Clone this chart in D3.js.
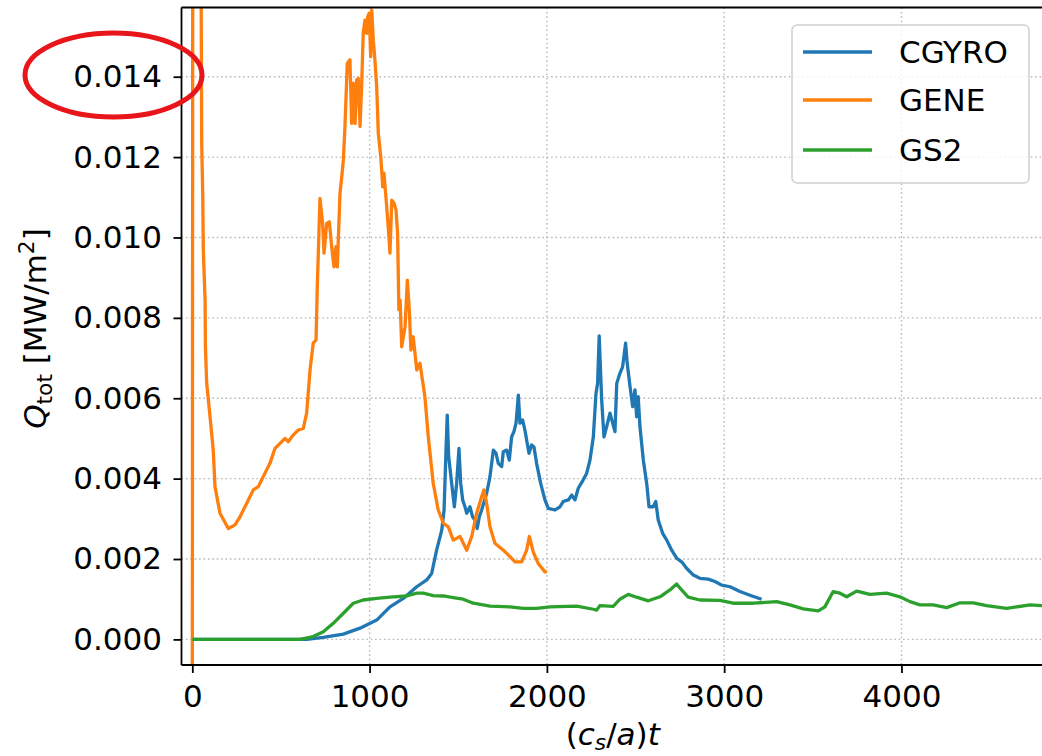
<!DOCTYPE html>
<html>
<head>
<meta charset="utf-8">
<script src="https://cdn.jsdelivr.net/npm/d3@7"></script>
<style>
  html, body { margin: 0; padding: 0; background: #fff; }
  svg { display: block; font-family: "DejaVu Sans", sans-serif; }
</style>
</head>
<body>
<svg id="chart" width="1042" height="756"></svg>
<script>
// Total heat flux Q_tot [MW/m^2] versus normalised time (c_s/a)t for three gyrokinetic codes.
const seriesNames = ["CGYRO", "GENE", "GS2"];
const seriesColors = ["#1f77b4", "#ff7f0e", "#2ca02c"];

const xTicks = [0, 1000, 2000, 3000, 4000];
const yTicks = [0.000, 0.002, 0.004, 0.006, 0.008, 0.010, 0.012, 0.014];

// [time, flux] pairs
const cgyro = [[0,0],[300,0],[645,0],[739,0.00005],[852,0.00013],[946,0.00028],[1040,0.00048],[1115,0.00081],[1190,0.00102],[1266,0.00131],[1322,0.00148],[1350,0.00164],[1378,0.00222],[1407,0.00272],[1420,0.00322],[1431,0.00471],[1438,0.00558],[1446,0.00455],[1463,0.00388],[1478,0.0033],[1491,0.00388],[1504,0.00475],[1514,0.00388],[1525,0.00347],[1538,0.0033],[1548,0.00314],[1566,0.0033],[1581,0.00305],[1594,0.00297],[1607,0.00276],[1619,0.00305],[1632,0.00322],[1660,0.00363],[1679,0.00405],[1698,0.00471],[1713,0.00463],[1726,0.00438],[1745,0.0043],[1754,0.00467],[1773,0.00471],[1788,0.00446],[1801,0.00504],[1814,0.00517],[1826,0.00538],[1839,0.00608],[1848,0.00538],[1863,0.00546],[1876,0.00521],[1889,0.00488],[1899,0.00463],[1914,0.00484],[1927,0.00479],[1942,0.00438],[1965,0.00388],[1989,0.00347],[2008,0.00326],[2046,0.00322],[2074,0.0033],[2092,0.00343],[2121,0.00347],[2140,0.00359],[2158,0.00347],[2177,0.00376],[2205,0.00397],[2224,0.00413],[2243,0.00446],[2262,0.00504],[2277,0.00612],[2286,0.00637],[2295,0.00755],[2309,0.00596],[2322,0.00504],[2337,0.00529],[2356,0.00563],[2371,0.00538],[2384,0.00517],[2394,0.00637],[2412,0.00662],[2427,0.00678],[2444,0.00737],[2453,0.00687],[2469,0.00629],[2484,0.00579],[2497,0.00621],[2506,0.00554],[2515,0.00604],[2525,0.00529],[2544,0.00446],[2563,0.00388],[2576,0.0033],[2600,0.0033],[2614,0.00343],[2628,0.00297],[2653,0.00264],[2676,0.00247],[2704,0.00222],[2732,0.00202],[2760,0.00193],[2788,0.00177],[2826,0.0016],[2863,0.00152],[2910,0.0015],[2948,0.00144],[2986,0.00135],[3033,0.00131],[3089,0.00119],[3145,0.0011],[3211,0.001]];

const gene = [[0,-0.002],[4,0.03],[45,0.022],[53,0.01234],[59,0.01101],[62,0.00969],[72,0.00844],[74,0.00728],[81,0.00638],[100,0.00554],[118,0.00471],[128,0.0038],[156,0.00314],[203,0.00276],[241,0.00285],[269,0.00305],[307,0.00339],[344,0.00372],[372,0.0038],[400,0.00405],[438,0.00438],[466,0.00475],[523,0.005],[541,0.00492],[570,0.00509],[598,0.00521],[626,0.00525],[645,0.00563],[664,0.0067],[682,0.00737],[698,0.00745],[705,0.00878],[720,0.01097],[735,0.01035],[743,0.00961],[758,0.01035],[773,0.01039],[786,0.00977],[799,0.00927],[810,0.00977],[818,0.00927],[833,0.0111],[843,0.01151],[852,0.01193],[861,0.01276],[874,0.01433],[889,0.01442],[899,0.01284],[908,0.01384],[918,0.01284],[927,0.01392],[936,0.01396],[946,0.01276],[955,0.01375],[964,0.01508],[974,0.01541],[984,0.01508],[989,0.01549],[998,0.01558],[1006,0.0145],[1012,0.01566],[1021,0.01491],[1030,0.01442],[1040,0.01375],[1049,0.01259],[1063,0.01201],[1074,0.01126],[1081,0.0116],[1092,0.01101],[1105,0.01027],[1115,0.00961],[1125,0.01093],[1138,0.01085],[1149,0.01068],[1158,0.0101],[1165,0.0082],[1172,0.00844],[1181,0.00728],[1200,0.00778],[1213,0.00894],[1224,0.0082],[1233,0.0072],[1246,0.00753],[1266,0.0067],[1284,0.00687],[1312,0.00604],[1331,0.00504],[1359,0.00388],[1387,0.00322],[1416,0.00289],[1444,0.0028],[1472,0.00247],[1510,0.00256],[1548,0.00222],[1576,0.00256],[1604,0.00314],[1632,0.00355],[1645,0.00372],[1660,0.00339],[1679,0.0028],[1707,0.00239],[1754,0.00222],[1792,0.00206],[1820,0.00193],[1858,0.00193],[1886,0.00222],[1901,0.00256],[1923,0.00218],[1951,0.00189],[1989,0.00168],[2000,0.00168]];

const gs2 = [[0,0],[300,0],[607,0],[682,0.00007],[739,0.00019],[795,0.0004],[852,0.00065],[908,0.0009],[964,0.00098],[1040,0.00102],[1115,0.00105],[1209,0.00108],[1266,0.00115],[1303,0.00115],[1359,0.00109],[1416,0.00108],[1472,0.00104],[1528,0.001],[1585,0.0009],[1679,0.00083],[1792,0.00081],[1867,0.00077],[1942,0.00077],[2017,0.00081],[2168,0.00083],[2262,0.00075],[2281,0.00073],[2299,0.00084],[2374,0.00082],[2412,0.001],[2459,0.00112],[2506,0.00105],[2572,0.00096],[2638,0.00106],[2694,0.00123],[2732,0.00138],[2760,0.00123],[2797,0.00105],[2863,0.00098],[2976,0.00097],[3051,0.0009],[3164,0.0009],[3296,0.00094],[3371,0.00086],[3446,0.00076],[3531,0.00071],[3568,0.00081],[3615,0.00119],[3653,0.00115],[3691,0.00106],[3747,0.0012],[3822,0.00112],[3916,0.00115],[3991,0.00106],[4048,0.00094],[4104,0.00086],[4179,0.00086],[4255,0.00079],[4330,0.00091],[4405,0.00091],[4480,0.00084],[4593,0.00077],[4725,0.00086],[4792,0.00084],[4900,0.00085]];

const seriesData = [cgyro, gene, gs2];

const xDomain = [-61, 4804];
const yDomain = [-0.000637, 0.015722];

// ---- layout ----
const plot = { left: 181.5, right: 1044, top: 7.5, bottom: 665 };
const fontSize = 31;

const svg = d3.select("#chart");
const x = d3.scaleLinear().domain(xDomain).range([plot.left, plot.right]);
const y = d3.scaleLinear().domain(yDomain).range([plot.bottom, plot.top]);

svg.append("defs").append("clipPath").attr("id", "plot-clip")
  .append("rect")
  .attr("x", plot.left).attr("y", plot.top)
  .attr("width", plot.right - plot.left).attr("height", plot.bottom - plot.top);

// grid
const grid = svg.append("g").attr("class", "grid")
  .attr("stroke", "#b8b8b8").attr("stroke-width", 1.4).attr("stroke-dasharray", "1.6,2.8");
grid.selectAll("line.gx").data(xTicks).join("line").attr("class", "gx")
  .attr("x1", d => x(d)).attr("x2", d => x(d))
  .attr("y1", plot.top).attr("y2", plot.bottom);
grid.selectAll("line.gy").data(yTicks).join("line").attr("class", "gy")
  .attr("x1", plot.left).attr("x2", plot.right)
  .attr("y1", d => y(d)).attr("y2", d => y(d));

// series lines
const line = d3.line().x(d => x(d[0])).y(d => y(d[1]));
svg.append("g").attr("clip-path", "url(#plot-clip)")
  .selectAll("path").data(seriesData).join("path")
  .attr("d", line)
  .attr("fill", "none")
  .attr("stroke", (d, i) => seriesColors[i])
  .attr("stroke-width", 3.3)
  .attr("stroke-linejoin", "round")
  .attr("stroke-linecap", "butt");

// axes
const xAxis = svg.append("g")
  .attr("transform", `translate(0,${plot.bottom})`)
  .call(d3.axisBottom(x).tickValues(xTicks).tickFormat(d3.format("d")).tickSize(8).tickPadding(12).tickSizeOuter(0));
const yAxis = svg.append("g")
  .attr("transform", `translate(${plot.left},0)`)
  .call(d3.axisLeft(y).tickValues(yTicks).tickFormat(d3.format(".3f")).tickSize(8).tickPadding(11.5).tickSizeOuter(0));

[xAxis, yAxis].forEach(a => {
  a.select(".domain").remove();
  a.selectAll(".tick line").attr("stroke", "#000").attr("stroke-width", 1.8);
  a.selectAll(".tick text")
    .attr("fill", "#000")
    .style("font-family", '"DejaVu Sans", sans-serif')
    .style("font-size", fontSize + "px");
});

// spines (left, bottom, top; the right edge lies at the page border)
const spines = svg.append("g").attr("stroke", "#000").attr("stroke-width", 1.8).attr("fill", "none");
spines.append("line").attr("x1", plot.left).attr("x2", plot.left).attr("y1", plot.top).attr("y2", plot.bottom);
spines.append("line").attr("x1", plot.left).attr("x2", plot.right).attr("y1", plot.bottom).attr("y2", plot.bottom);
spines.append("line").attr("x1", plot.left).attr("x2", plot.right).attr("y1", plot.top).attr("y2", plot.top);
spines.append("line").attr("x1", plot.right).attr("x2", plot.right).attr("y1", plot.top).attr("y2", plot.bottom);

// x label: (c_s/a)t
const xl = svg.append("text")
  .attr("x", (plot.left + plot.right) / 2).attr("y", 745)
  .attr("text-anchor", "middle")
  .style("font-size", fontSize + "px").attr("fill", "#000");
xl.append("tspan").text("(");
xl.append("tspan").attr("font-style", "italic").text("c");
xl.append("tspan").attr("font-style", "italic").attr("font-size", "70%").attr("dy", 5).text("s");
xl.append("tspan").attr("dy", -5).text("/");
xl.append("tspan").attr("font-style", "italic").text("a");
xl.append("tspan").text(")");
xl.append("tspan").attr("font-style", "italic").text("t");

// y label: Q_tot [MW/m^2]
const yl = svg.append("text")
  .attr("transform", "translate(46,328.5) rotate(-90)")
  .attr("text-anchor", "middle")
  .style("font-size", fontSize + "px").attr("fill", "#000");
yl.append("tspan").attr("font-style", "italic").text("Q");
yl.append("tspan").attr("font-size", "70%").attr("dy", 6).text("tot");
yl.append("tspan").attr("dy", -6).text("\u00a0[MW/m");
yl.append("tspan").attr("font-size", "70%").attr("dy", -12).text("2");
yl.append("tspan").attr("dy", 12).text("]");

// legend
const legend = svg.append("g");
legend.append("rect")
  .attr("x", 792).attr("y", 25).attr("width", 237).attr("height", 158)
  .attr("rx", 5).attr("ry", 5)
  .attr("fill", "rgba(255,255,255,0.8)").attr("stroke", "#d0d0d0").attr("stroke-width", 1.5);
const rowY = [52, 100, 150];
seriesNames.forEach((name, i) => {
  legend.append("line")
    .attr("x1", 803).attr("x2", 872).attr("y1", rowY[i]).attr("y2", rowY[i])
    .attr("stroke", seriesColors[i]).attr("stroke-width", 3.3);
  legend.append("text")
    .attr("x", 899).attr("y", rowY[i]).attr("dy", "0.36em")
    .style("font-size", fontSize + "px").attr("fill", "#000")
    .text(name);
});

// highlight ring around the 0.014 tick label
svg.append("ellipse")
  .attr("cx", 113.5).attr("cy", 75).attr("rx", 88.5).attr("ry", 42)
  .attr("fill", "none").attr("stroke", "#e8161b").attr("stroke-width", 5);
</script>
</body>
</html>
